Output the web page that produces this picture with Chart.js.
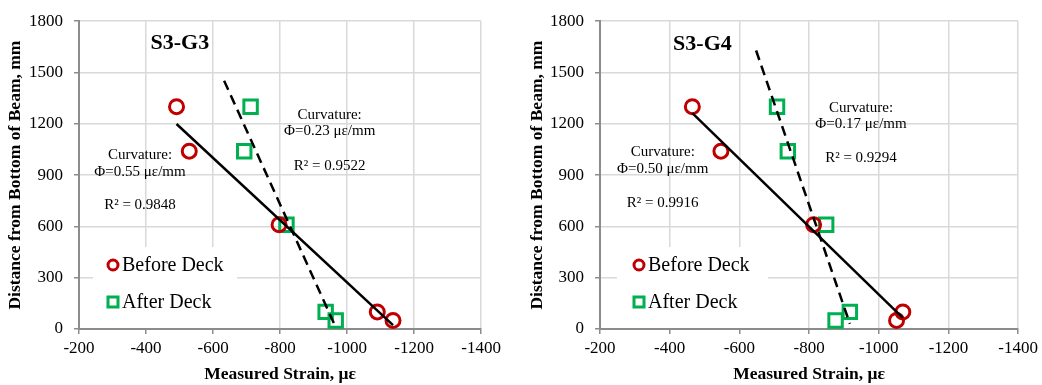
<!DOCTYPE html>
<html>
<head>
<meta charset="utf-8">
<script src="https://cdn.jsdelivr.net/npm/chart.js@4"></script>
<style>
  body { margin: 0; background: #fff; }
  .panel { position: absolute; top: 0; height: 385px; }
  #p1 { left: 0; width: 505px; }
  #p2 { left: 520px; width: 522px; }
</style>
</head>
<body>
<div class="panel" id="p1"><canvas id="c1"></canvas></div>
<div class="panel" id="p2"><canvas id="c2"></canvas></div>
<script>
// gauge heights from bottom of beam (mm)
const heights = [1300, 1040, 610, 100, 50];
// measured strain (microstrain)
const g3Before = [-491, -529, -797, -1090, -1137];
const g3After = [-712, -693, -819, -936, -966];
const g4Before = [-465, -547, -813, -1069, -1051];
const g4After = [-708, -739, -849, -917, -876];

const xTicks = [-200, -400, -600, -800, -1000, -1200, -1400];
const yTicks = [0, 300, 600, 900, 1200, 1500, 1800];

const seriesNames = ['Before Deck', 'After Deck'];
const g3Notes = [['Curvature:', 'Φ=0.55 με/mm', 'R² = 0.9848'], ['Curvature:', 'Φ=0.23 με/mm', 'R² = 0.9522']];
const g4Notes = [['Curvature:', 'Φ=0.50 με/mm', 'R² = 0.9916'], ['Curvature:', 'Φ=0.17 με/mm', 'R² = 0.9294']];

const serif = 'Liberation Serif, Times New Roman, serif';
const red = '#c00000', green = '#00b050';
const axisGrey = '#8c8c8c', gridGrey = '#d9d9d9';

// least squares line y = a + b*x, like the excel trendline
function trend(xs, ys, extend) {
  const n = xs.length;
  const mx = xs.reduce((s, v) => s + v, 0) / n;
  const my = ys.reduce((s, v) => s + v, 0) / n;
  let sxy = 0, sxx = 0;
  xs.forEach((x, i) => { sxy += (x - mx) * (ys[i] - my); sxx += (x - mx) * (x - mx); });
  const b = sxy / sxx, a = my - b * mx;
  const x0 = Math.max(...xs) + extend, x1 = Math.min(...xs);
  return [{ x: x0, y: a + b * x0 }, { x: x1, y: a + b * x1 }];
}

const pts = xs => xs.map((x, i) => ({ x: x, y: heights[i] }));

const textPlugin = {
  id: 'texts',
  beforeDatasetsDraw(chart) {
    const o = chart.options.plugins.texts;
    const ctx = chart.ctx, a = chart.chartArea;
    const bx = a.left + o.boxLeft;
    ctx.save();
    ctx.fillStyle = '#fff';
    ctx.fillRect(bx, a.bottom - 82, o.boxWidth, 81);
    const mx = a.left + o.markLeft;
    const rows = [a.bottom - 64, a.bottom - 27];
    ctx.lineWidth = 3;
    ctx.strokeStyle = red;
    ctx.beginPath(); ctx.arc(mx, rows[0], 5, 0, Math.PI * 2); ctx.stroke();
    ctx.strokeStyle = green;
    ctx.strokeRect(mx - 5, rows[1] - 5, 10, 10);
    ctx.fillStyle = '#000';
    ctx.font = '20px ' + serif;
    ctx.textAlign = 'left';
    ctx.textBaseline = 'middle';
    seriesNames.forEach((s, i) => ctx.fillText(s, mx + 9, rows[i] + 1));
    ctx.restore();
  },
  afterDatasetsDraw(chart) {
    const o = chart.options.plugins.texts;
    const ctx = chart.ctx, xs = chart.scales.x, ys = chart.scales.y;
    ctx.save();
    ctx.fillStyle = '#000';
    ctx.textAlign = 'center';
    ctx.textBaseline = 'middle';
    ctx.font = 'bold 22px ' + serif;
    ctx.fillText(o.title, xs.getPixelForValue(o.titleAt[0]), ys.getPixelForValue(o.titleAt[1]));
    ctx.font = '15px ' + serif;
    o.notes.forEach((lines, k) => {
      const at = o.notesAt[k];
      const px = xs.getPixelForValue(at[0]);
      lines.forEach((t, j) => ctx.fillText(t, px, ys.getPixelForValue(at[j + 1])));
    });
    ctx.restore();
  }
};

function makeChart(id, before, after, opts) {
  return new Chart(document.getElementById(id), {
    type: 'scatter',
    data: {
      datasets: [
        { type: 'line', data: trend(before, heights, 0), borderColor: '#000', borderWidth: 2.5,
          pointRadius: 0, fill: false, order: 0 },
        { type: 'line', data: trend(after, heights, 60), borderColor: '#000', borderWidth: 2.5,
          borderDash: [10, 6], pointRadius: 0, fill: false, order: 0 },
        { label: seriesNames[0], data: pts(before), pointStyle: 'circle', pointRadius: 7,
          borderWidth: 3, borderColor: red, backgroundColor: 'rgba(0,0,0,0)', order: 1 },
        { label: seriesNames[1], data: pts(after), pointStyle: 'rect', pointRadius: 9.5,
          borderWidth: 3, borderColor: green, backgroundColor: 'rgba(0,0,0,0)', order: 1 }
      ]
    },
    options: {
      responsive: true,
      maintainAspectRatio: false,
      animation: false,
      layout: { padding: { top: 16, right: opts.padRight, bottom: 0, left: 0 } },
      plugins: {
        legend: { display: false },
        tooltip: { enabled: false },
        texts: opts.texts
      },
      scales: {
        x: {
          type: 'linear', reverse: true, min: -1400, max: -200,
          afterBuildTicks: s => { s.ticks = xTicks.map(v => ({ value: v })); },
          afterFit: s => { s.height = 56; },
          ticks: { callback: v => String(v), color: '#000', font: { family: serif, size: 17 },
            padding: 4, maxRotation: 0, autoSkip: false },
          grid: { color: gridGrey, lineWidth: 1.5, tickLength: 5, tickColor: axisGrey, tickWidth: 1.5 },
          border: { color: axisGrey, width: 2 },
          title: { display: true, text: 'Measured Strain, με', color: '#000',
            font: { family: serif, size: 17.5, weight: 'bold' }, padding: { top: 0, bottom: 0 } }
        },
        y: {
          min: 0, max: 1800,
          afterBuildTicks: s => { s.ticks = yTicks.map(v => ({ value: v })); },
          afterFit: s => { s.width = opts.yWidth; },
          ticks: { callback: v => String(v), color: '#000', font: { family: serif, size: 17 },
            padding: 11, autoSkip: false },
          grid: { color: gridGrey, lineWidth: 1.5, tickLength: 5, tickColor: axisGrey, tickWidth: 1.5 },
          border: { color: axisGrey, width: 2 },
          title: { display: true, text: 'Distance from Bottom of Beam, mm', color: '#000',
            font: { family: serif, size: 17.5, weight: 'bold' }, padding: { top: opts.yTitlePad, bottom: 0 } }
        }
      }
    },
    plugins: [textPlugin]
  });
}

makeChart('c1', g3Before, g3After, {
  padRight: 23, yWidth: 79, yTitlePad: 5,
  texts: {
    title: 'S3-G3', titleAt: [-501, 1673],
    notes: g3Notes,
    notesAt: [[-382, 1018, 920, 725], [-948, 1254, 1156, 955]],
    boxLeft: 14, boxWidth: 144, markLeft: 34
  }
});

makeChart('c2', g4Before, g4After, {
  padRight: 22, yWidth: 80, yTitlePad: 6.5,
  texts: {
    title: 'S3-G4', titleAt: [-494, 1662],
    notes: g4Notes,
    notesAt: [[-380, 1035, 937, 736], [-949, 1294, 1196, 1001]],
    boxLeft: 17, boxWidth: 151, markLeft: 39
  }
});
</script>
</body>
</html>
